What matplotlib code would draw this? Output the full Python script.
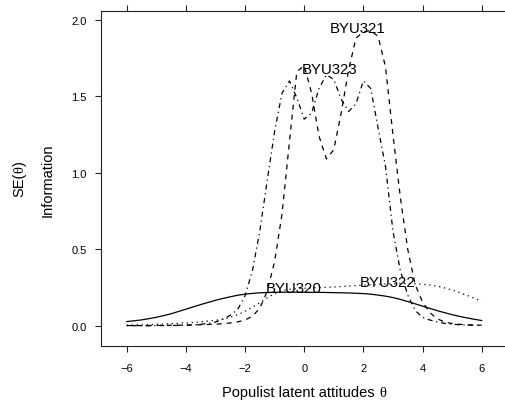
import matplotlib
matplotlib.use("Agg")
import matplotlib.pyplot as plt

plt.rcParams['font.family'] = ['Liberation Sans', 'DejaVu Sans']

theta = [-6, -5.75, -5.5, -5.25, -5, -4.75, -4.5, -4.25, -4, -3.75, -3.5, -3.25,
         -3, -2.75, -2.5, -2.25, -2, -1.75, -1.5, -1.25, -1, -0.75, -0.5, -0.25,
         0, 0.25, 0.5, 0.75, 1, 1.25, 1.5, 1.75, 2, 2.25, 2.5, 2.75, 3, 3.25,
         3.5, 3.75, 4, 4.25, 4.5, 4.75, 5, 5.25, 5.5, 5.75, 6]

byu320 = [0.027, 0.032, 0.038, 0.046, 0.055, 0.066, 0.078, 0.093, 0.108, 0.123, 0.138, 0.152,
          0.166, 0.178, 0.189, 0.199, 0.206, 0.211, 0.215, 0.217, 0.218, 0.219, 0.219, 0.219,
          0.219, 0.218, 0.218, 0.217, 0.216, 0.215, 0.214, 0.212, 0.210, 0.206, 0.200, 0.193,
          0.184, 0.172, 0.158, 0.143, 0.128, 0.113, 0.098, 0.085, 0.072, 0.061, 0.051, 0.042, 0.034]

byu321 = [0.001, 0.001, 0.001, 0.001, 0.002, 0.002, 0.003, 0.003, 0.004, 0.005, 0.006, 0.008,
          0.010, 0.013, 0.018, 0.025, 0.037, 0.062, 0.115, 0.225, 0.42, 0.73, 1.20, 1.66,
          1.70, 1.52, 1.24, 1.09, 1.15, 1.39, 1.67, 1.88, 1.92, 1.93, 1.89, 1.69,
          1.25, 0.84, 0.50, 0.27, 0.155, 0.085, 0.045, 0.024, 0.014, 0.009, 0.006, 0.004, 0.003]

byu322 = [0.003, 0.004, 0.005, 0.007, 0.009, 0.011, 0.013, 0.016, 0.018, 0.021, 0.025, 0.030,
          0.035, 0.044, 0.055, 0.072, 0.094, 0.120, 0.150, 0.182, 0.210, 0.229, 0.238, 0.242,
          0.245, 0.247, 0.249, 0.251, 0.253, 0.256, 0.259, 0.262, 0.265, 0.268, 0.270, 0.272,
          0.274, 0.275, 0.275, 0.274, 0.271, 0.266, 0.258, 0.247, 0.233, 0.217, 0.199, 0.180, 0.160]

byu323 = [0.000, 0.000, 0.000, 0.000, 0.001, 0.001, 0.001, 0.002, 0.003, 0.005, 0.009, 0.015,
          0.024, 0.042, 0.068, 0.105, 0.196, 0.36, 0.62, 0.95, 1.27, 1.52, 1.60, 1.49,
          1.35, 1.39, 1.55, 1.64, 1.61, 1.48, 1.40, 1.45, 1.60, 1.55, 1.29, 1.04,
          0.62, 0.36, 0.20, 0.10, 0.055, 0.037, 0.025, 0.015, 0.010, 0.006, 0.004, 0.003, 0.002]

series_names = ['BYU320', 'BYU321', 'BYU322', 'BYU323']
label_x = [-0.37, 1.81, 2.82, 0.85]
label_y = [0.218, 1.917, 0.261, 1.652]

x_ticks = [-6, -4, -2, 0, 2, 4, 6]
y_ticks = [0.0, 0.5, 1.0, 1.5, 2.0]
y_ticklabels = ['0.0', '0.5', '1.0', '1.5', '2.0']
x_ticklabels = ['\u22126', '\u22124', '\u22122', '0', '2', '4', '6']

W, H = 506, 402
fig = plt.figure(figsize=(W / 100, H / 100), dpi=100)
ax_left, ax_right, ax_top, ax_bottom = 101, 507.4, 12, 347
ax = fig.add_axes([ax_left / W, 1 - ax_bottom / H, (ax_right - ax_left) / W, (ax_bottom - ax_top) / H])

styles = [dict(ls='-'), dict(ls=(0, (4, 4))), dict(ls=(0, (1, 3))), dict(ls=(0, (1, 3, 4, 3)))]
data = [byu320, byu321, byu322, byu323]
for vals, st in zip(data, styles):
    ax.plot(theta, vals, color='black', lw=0.9, **st)

for name, lx, ly in zip(series_names, label_x, label_y):
    ax.text(lx, ly, name, ha='center', va='baseline', fontsize=10.8, color='black')

ax.set_xlim(-6.87, 6.87)
ax.set_ylim(-0.1327, 2.0569)
ax.set_xticks(x_ticks)
ax.set_xticklabels(x_ticklabels)
ax.set_yticks(y_ticks)
ax.set_yticklabels(y_ticklabels)
ax.tick_params(direction='out', length=4.5, width=0.8, labelsize=8,
               top=True, right=True, labeltop=False, labelright=False, color='#222222')
ax.tick_params(axis='x', pad=7.5)
ax.tick_params(axis='y', pad=6.0)
for s in ax.spines.values():
    s.set_linewidth(0.8)
    s.set_color('#222222')

# axis titles: sans text with a serif theta
renderer = fig.canvas.get_renderer()
fs = 10.5

# x title
cx, cy = 0.5 * (126.7 + 481.7), 393
t1 = fig.text(0, 0, 'Populist latent attitudes ', fontsize=fs, ha='left', va='baseline')
t2 = fig.text(0, 0, '\u03b8', fontsize=fs, ha='left', va='baseline', family='Liberation Serif')
w1 = t1.get_window_extent(renderer).width
w2 = t2.get_window_extent(renderer).width
x0 = cx - (w1 + w2) / 2
base = cy + 4
t1.set_position((x0 / W, 1 - base / H))
t2.set_position(((x0 + w1) / W, 1 - base / H))

# y title "SE(theta)" rotated
s1 = fig.text(0, 0, 'SE(', fontsize=fs, rotation=90, ha='center', va='bottom')
s2 = fig.text(0, 0, '\u03b8', fontsize=fs, rotation=90, ha='center', va='bottom', family='Liberation Serif')
s3 = fig.text(0, 0, ')', fontsize=fs, rotation=90, ha='center', va='bottom')
h1 = s1.get_window_extent(renderer).height
h2 = s2.get_window_extent(renderer).height
h3 = s3.get_window_extent(renderer).height
ytot = h1 + h2 + h3
ybot = 179 + ytot / 2  # pixel from top
sx = 19
s1.set_position((sx / W, 1 - ybot / H))
s2.set_position((sx / W, 1 - (ybot - h1) / H))
s3.set_position((sx / W, 1 - (ybot - h1 - h2) / H))
for s in (s1, s2, s3):
    s.set_rotation_mode('anchor')
    s.set_ha('left')
    s.set_va('baseline')
# with anchor mode, position is baseline-left in rotated frame
bx = 23.5
s1.set_position((bx / W, 1 - ybot / H))
s2.set_position((bx / W, 1 - (ybot - h1) / H))
s3.set_position((bx / W, 1 - (ybot - h1 - h2) / H))

fig.text(48 / W, 1 - 180 / H, 'Information', ha='center', va='center', rotation=90, fontsize=fs)

fig.savefig('out.png', dpi=100)
